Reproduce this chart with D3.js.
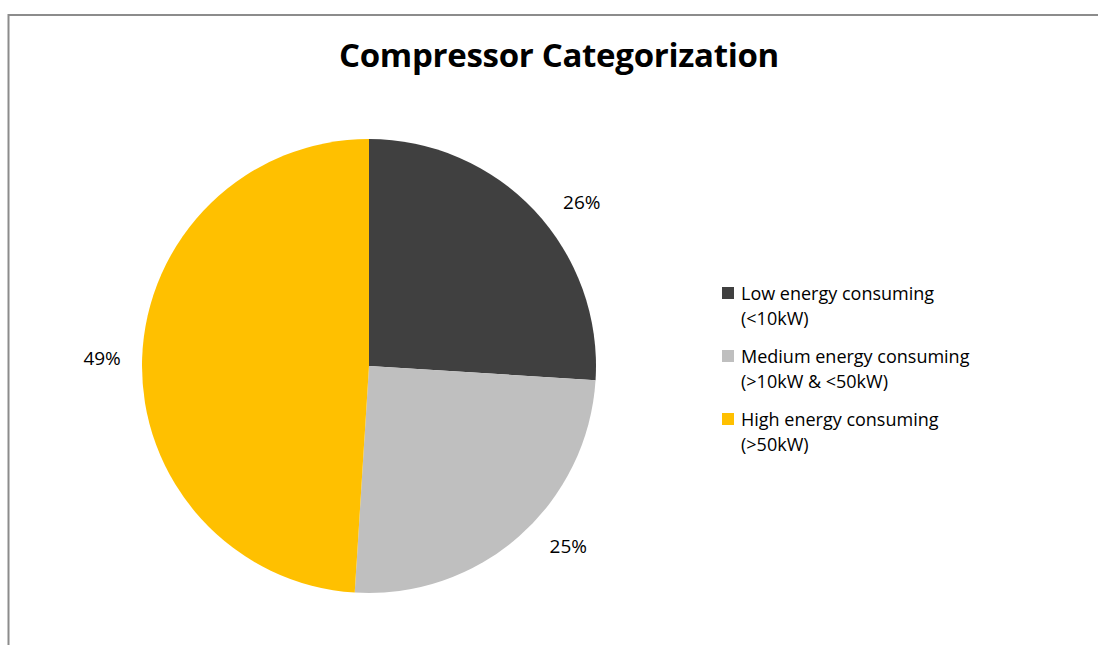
<!DOCTYPE html>
<html>
<head>
<meta charset="utf-8">
<script src="https://cdn.jsdelivr.net/npm/d3@7"></script>
<style>
  html, body { margin: 0; padding: 0; background: #ffffff; }
  svg { display: block; }
  text { font-family: "Open Sans", Lato, "Liberation Sans", sans-serif; fill: #000; }
</style>
</head>
<body>
<svg id="chart" width="1098" height="645"></svg>
<script>
// Compressor share by energy consumption class
const categories = ["Low energy consuming", "Medium energy consuming", "High energy consuming"];
const subLabels = ["(<10kW)", "(>10kW & <50kW)", "(>50kW)"];
const shares = [26, 25, 49];
const colors = ["#404040", "#bfbfbf", "#ffc000"];

const svg = d3.select("#chart");

// chart frame (runs off the right and bottom edges)
svg.append("rect")
  .attr("x", 8.5).attr("y", 15)
  .attr("width", 1100).attr("height", 700)
  .attr("fill", "#fff")
  .attr("stroke", "#8c8c8c").attr("stroke-width", 2);

// title
svg.append("text")
  .attr("x", 559).attr("y", 67)
  .attr("text-anchor", "middle")
  .attr("font-size", 33)
  .attr("font-weight", "bold")
  .attr("letter-spacing", -0.3)
  .text("Compressor Categorization");

const cx = 369, cy = 366, R = 227;

const pie = d3.pie().sort(null).value(d => d)(shares);
const arc = d3.arc().innerRadius(0).outerRadius(R);
const color = d3.scaleOrdinal().domain(categories).range(colors);

const g = svg.append("g").attr("transform", `translate(${cx},${cy})`);

g.selectAll("path.slice")
  .data(pie)
  .join("path")
  .attr("class", "slice")
  .attr("d", arc)
  .attr("fill", (d, i) => color(categories[i]));

// percentage labels outside each slice: pushed sideways past the rim
const mid = d => (d.startAngle + d.endAngle) / 2;
g.selectAll("text.pct")
  .data(pie)
  .join("text")
  .attr("class", "pct")
  .attr("x", d => 200 * Math.sin(mid(d)) + 67 * Math.sign(Math.sin(mid(d))))
  .attr("y", d => -240 * Math.cos(mid(d)))
  .attr("dy", "0.36em")
  .attr("text-anchor", "middle")
  .attr("font-size", 19)
  .text(d => d.value + "%");

// legend
const legendY = d3.scalePoint().domain(categories).range([293, 419]);
const lg = svg.append("g");
categories.forEach((c, i) => {
  const y = legendY(c);
  lg.append("rect")
    .attr("x", 722).attr("y", y - 6)
    .attr("width", 12).attr("height", 12)
    .attr("fill", color(c));
  lg.append("text")
    .attr("x", 741).attr("y", y + 6.5)
    .attr("font-size", 18)
    .attr("letter-spacing", 0)
    .text(c);
  lg.append("text")
    .attr("x", 741).attr("y", y + 31.5)
    .attr("font-size", 18)
    .attr("letter-spacing", 0)
    .text(subLabels[i]);
});
</script>
</body>
</html>
